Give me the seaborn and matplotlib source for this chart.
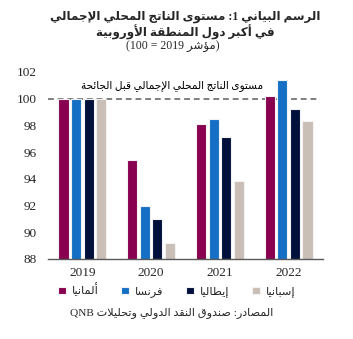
import matplotlib
matplotlib.use('Agg')
import matplotlib.pyplot as plt
import seaborn as sns
import pandas as pd
import re

# ---------------- data ----------------
years = ['2019', '2020', '2021', '2022']
countries = ['ألمانيا', 'فرنسا', 'إيطاليا', 'إسبانيا']
germany = [100.0, 95.4, 98.1, 100.2]
france = [100.0, 92.0, 98.5, 101.4]
italy = [100.0, 91.0, 97.1, 99.2]
spain = [100.0, 89.2, 93.8, 98.35]
colors = ['#8A0050', '#1570C5', '#00103A', '#C9BFB6']

title1 = 'الرسم البياني 1: مستوى الناتج المحلي الإجمالي'
title2 = 'في أكبر دول المنطقة الأوروبية'
title3 = '(مؤشر 2019 = 100)'
ref_label = 'مستوى الناتج المحلي الإجمالي قبل الجائحة'
source = 'المصادر: صندوق النقد الدولي وتحليلات QNB'

# ---------------- minimal Arabic shaping + bidi ----------------
FORMS = {
    '\u0621': ('\ufe80', None, None, None),
    '\u0622': ('\ufe81', '\ufe82', None, None),
    '\u0623': ('\ufe83', '\ufe84', None, None),
    '\u0624': ('\ufe85', '\ufe86', None, None),
    '\u0625': ('\ufe87', '\ufe88', None, None),
    '\u0626': ('\ufe89', '\ufe8a', '\ufe8b', '\ufe8c'),
    '\u0627': ('\ufe8d', '\ufe8e', None, None),
    '\u0628': ('\ufe8f', '\ufe90', '\ufe91', '\ufe92'),
    '\u0629': ('\ufe93', '\ufe94', None, None),
    '\u062a': ('\ufe95', '\ufe96', '\ufe97', '\ufe98'),
    '\u062b': ('\ufe99', '\ufe9a', '\ufe9b', '\ufe9c'),
    '\u062c': ('\ufe9d', '\ufe9e', '\ufe9f', '\ufea0'),
    '\u062d': ('\ufea1', '\ufea2', '\ufea3', '\ufea4'),
    '\u062e': ('\ufea5', '\ufea6', '\ufea7', '\ufea8'),
    '\u062f': ('\ufea9', '\ufeaa', None, None),
    '\u0630': ('\ufeab', '\ufeac', None, None),
    '\u0631': ('\ufead', '\ufeae', None, None),
    '\u0632': ('\ufeaf', '\ufeb0', None, None),
    '\u0633': ('\ufeb1', '\ufeb2', '\ufeb3', '\ufeb4'),
    '\u0634': ('\ufeb5', '\ufeb6', '\ufeb7', '\ufeb8'),
    '\u0635': ('\ufeb9', '\ufeba', '\ufebb', '\ufebc'),
    '\u0636': ('\ufebd', '\ufebe', '\ufebf', '\ufec0'),
    '\u0637': ('\ufec1', '\ufec2', '\ufec3', '\ufec4'),
    '\u0638': ('\ufec5', '\ufec6', '\ufec7', '\ufec8'),
    '\u0639': ('\ufec9', '\ufeca', '\ufecb', '\ufecc'),
    '\u063a': ('\ufecd', '\ufece', '\ufecf', '\ufed0'),
    '\u0641': ('\ufed1', '\ufed2', '\ufed3', '\ufed4'),
    '\u0642': ('\ufed5', '\ufed6', '\ufed7', '\ufed8'),
    '\u0643': ('\ufed9', '\ufeda', '\ufedb', '\ufedc'),
    '\u0644': ('\ufedd', '\ufede', '\ufedf', '\ufee0'),
    '\u0645': ('\ufee1', '\ufee2', '\ufee3', '\ufee4'),
    '\u0646': ('\ufee5', '\ufee6', '\ufee7', '\ufee8'),
    '\u0647': ('\ufee9', '\ufeea', '\ufeeb', '\ufeec'),
    '\u0648': ('\ufeed', '\ufeee', None, None),
    '\u0649': ('\ufeef', '\ufef0', None, None),
    '\u064a': ('\ufef1', '\ufef2', '\ufef3', '\ufef4'),
}
LAM_ALEF = {'\u0622': ('\ufef5', '\ufef6'), '\u0623': ('\ufef7', '\ufef8'),
            '\u0625': ('\ufef9', '\ufefa'), '\u0627': ('\ufefb', '\ufefc')}


def _dual(c):
    return c in FORMS and FORMS[c][2] is not None


def _joining(c):
    return c in FORMS and c != '\u0621'


def shape(s):
    out = []
    i = 0
    n = len(s)
    while i < n:
        c = s[i]
        if c not in FORMS:
            out.append(c)
            i += 1
            continue
        prev_j = i > 0 and _dual(s[i - 1])
        if c == '\u0644' and i + 1 < n and s[i + 1] in LAM_ALEF:
            iso, fin = LAM_ALEF[s[i + 1]]
            out.append(fin if prev_j else iso)
            i += 2
            continue
        next_j = i + 1 < n and _joining(s[i + 1])
        iso, fin, ini, med = FORMS[c]
        if ini is None:
            out.append(fin if prev_j else iso)
        else:
            if prev_j and next_j:
                out.append(med)
            elif prev_j:
                out.append(fin)
            elif next_j:
                out.append(ini)
            else:
                out.append(iso)
        i += 1
    return ''.join(out)


def ar(s):
    shaped = shape(s)
    tokens = re.findall(r'[A-Za-z0-9.]+|[^A-Za-z0-9.]+', shaped)
    res = []
    for t in reversed(tokens):
        if re.match(r'[A-Za-z0-9.]', t):
            res.append(t)
        else:
            r = t[::-1]
            r = r.replace('(', '\x00').replace(')', '(').replace('\x00', ')')
            res.append(r)
    return ''.join(res)


# ---------------- frame ----------------
values = {c: v for c, v in zip(countries, [germany, france, italy, spain])}
rows = []
for c in countries:
    for y, v in zip(years, values[c]):
        rows.append({'year': y, 'country': ar(c), 'value': v})
df = pd.DataFrame(rows)

sns.set_style('white')
plt.rcParams['font.family'] = ['Liberation Serif', 'DejaVu Sans']

fig = plt.figure(figsize=(3.53, 3.39), dpi=100)
ax = fig.add_axes([0.136, 0.236, 0.779, 0.552])

sns.barplot(data=df, x='year', y='value', hue='country',
            palette=colors, saturation=1, width=0.733, gap=0.2,
            edgecolor='#f2f2f2', linewidth=0.8, ax=ax)

ax.set_ylim(88, 102)
ax.set_yticks(range(88, 103, 2))
ax.set_xlim(-0.5, 3.5)
ax.set_xlabel('')
ax.set_ylabel('')
for s in ['left', 'top', 'right']:
    ax.spines[s].set_visible(False)
ax.spines['bottom'].set_color('#5a5a5a')
ax.spines['bottom'].set_linewidth(1.0)
ax.tick_params(axis='y', length=0, labelsize=9.5, pad=8)
ax.tick_params(axis='x', length=0, labelsize=9.5, pad=6)

ax.axhline(100, xmin=0.0, xmax=0.99, color='#7f7f7f', lw=1.4,
           linestyle=(0, (3, 2)), zorder=0.5)
ax.text(2.63, 100.95, ar(ref_label), ha='right', va='center', fontsize=7.6,
        color='#000000')

handles, labels = ax.get_legend_handles_labels()
ax.get_legend().remove()
fig.legend(handles, labels, loc='center', bbox_to_anchor=(0.5, 1 - 290 / 339),
           ncol=4, frameon=False, fontsize=8.2, handlelength=0.7,
           handleheight=0.7, handletextpad=0.5, columnspacing=2.0)

fig.text(0.525, 1 - 17 / 339, ar(title1), ha='center', va='center',
         fontsize=8.6, fontweight='bold')
fig.text(0.525, 1 - 32 / 339, ar(title2), ha='center', va='center',
         fontsize=8.6, fontweight='bold')
fig.text(0.49, 1 - 46 / 339, ar(title3), ha='center', va='center',
         fontsize=8.5)
fig.text(0.485, 1 - 313 / 339, ar(source), ha='center', va='center',
         fontsize=8.1)

fig.savefig('out.png', dpi=100)
